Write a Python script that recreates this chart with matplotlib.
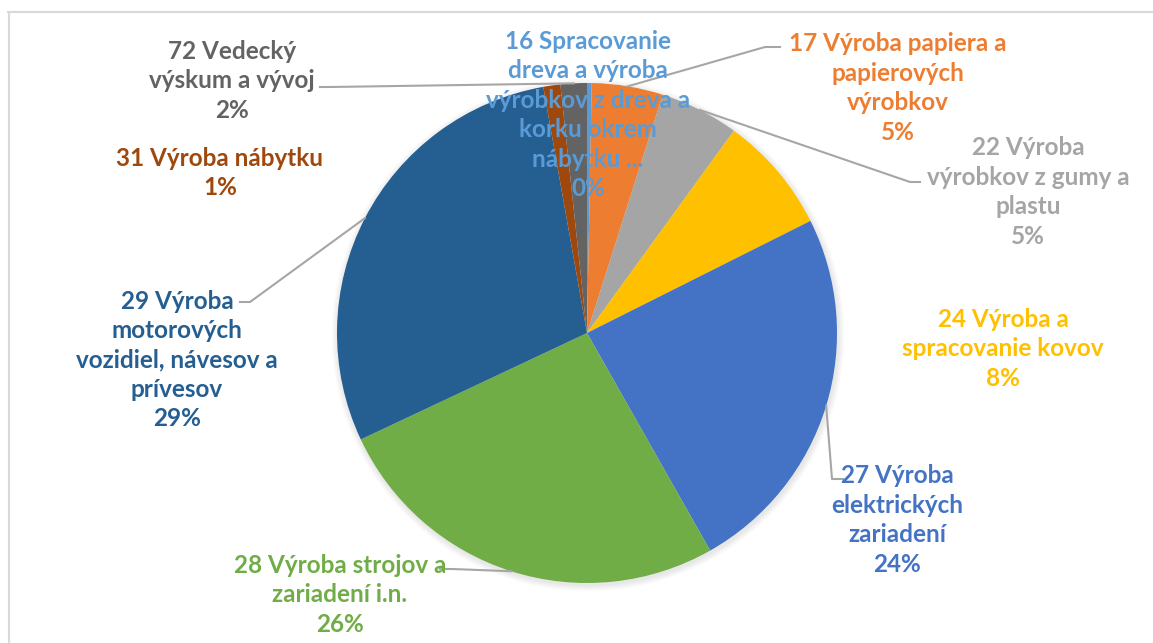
import numpy as np
import matplotlib.pyplot as plt
from matplotlib.patches import Circle

plt.rcParams['font.family'] = ['Lato', 'DejaVu Sans']
plt.rcParams['font.weight'] = 'bold'

# ---- data ----
kody = ["16", "17", "22", "24", "27", "28", "29", "31", "72"]
nazvy = [
    "Spracovanie\ndreva a výroba\nvýrobkov z dreva a\nkorku okrem\nnábytku ...",
    "Výroba papiera a\npapierových\nvýrobkov",
    "Výroba\nvýrobkov z gumy a\nplastu",
    "Výroba a\nspracovanie kovov",
    "Výroba\nelektrických\nzariadení",
    "Výroba strojov a\nzariadení i.n.",
    "Výroba\nmotorových\nvozidiel, návesov a\nprívesov",
    "Výroba nábytku",
    "Vedecký\nvýskum a vývoj",
]
podiely = [0.3, 4.6, 5.1, 7.6, 24.2, 26.2, 29.2, 1.1, 1.7]
farby = ["#5B9BD5", "#ED7D31", "#A5A5A5", "#FFC000", "#4472C4",
         "#70AD47", "#255E91", "#9E480E", "#636363"]

# label centres (pixels from top-left) and leader lines
W, H = 1153, 643
stred = (587, 333)
polomer = 250
pozicie = [(588, 115), (898, 88), (1028, 192), (1003, 349), (897, 520),
           (340, 595), (177, 360), (220, 173), (232, 81)]
vodiace = {  # label end points of the leader lines (pixels)
    1: [(780, 47), (765, 47)],
    2: [(920, 182), (910, 182)],
    4: [(843, 479), (832, 479)],
    5: [(440, 569), (452, 569)],
    6: [(240, 302), (250, 302)],
    8: [(320, 87), (330, 87)],
}


def py(y):
    return H - y


fig = plt.figure(figsize=(W / 100, H / 100), dpi=100)
ax = fig.add_axes([0, 0, 1, 1])

# frame
ax.plot([8, W], [py(12), py(12)], color="#D9D9D9", lw=1.5)
ax.plot([8.5, 8.5], [py(12), 0], color="#D9D9D9", lw=1.5)

# soft shadow
for k in range(8, 0, -1):
    ax.add_patch(Circle((stred[0] + 1, py(stred[1]) - 2), polomer + k * 0.8,
                        color="black", alpha=0.012, lw=0, zorder=1))

wedges, _ = ax.pie(podiely, colors=farby, startangle=90, counterclock=False,
                   center=(stred[0], py(stred[1])), radius=polomer,
                   wedgeprops=dict(linewidth=0), frame=True)
for w in wedges:
    w.set_zorder(2)
ax.set_xlim(0, W)
ax.set_ylim(0, H)
ax.set_aspect("equal")
ax.axis("off")

spolu = sum(podiely)
for i, (kod, nazov, hod) in enumerate(zip(kody, nazvy, podiely)):
    x, y = pozicie[i]
    txt = f"{kod} {nazov}\n{round(hod / spolu * 100):.0f}%"
    ax.text(x, py(y), txt, ha="center", va="center", fontsize=17.5,
            fontweight="bold", color=farby[i], linespacing=1.34, zorder=5)
    if i in vodiace:
        w = wedges[i]
        ang = np.deg2rad((w.theta1 + w.theta2) / 2)
        ex = stred[0] + polomer * np.cos(ang)
        ey = py(stred[1]) + polomer * np.sin(ang)
        pts = vodiace[i]
        xs = [p[0] for p in pts] + [ex]
        ys = [py(p[1]) for p in pts] + [ey]
        ax.plot(xs, ys, color="#A6A6A6", lw=1.5, zorder=4)

fig.savefig("out.png", dpi=100, facecolor="white")
